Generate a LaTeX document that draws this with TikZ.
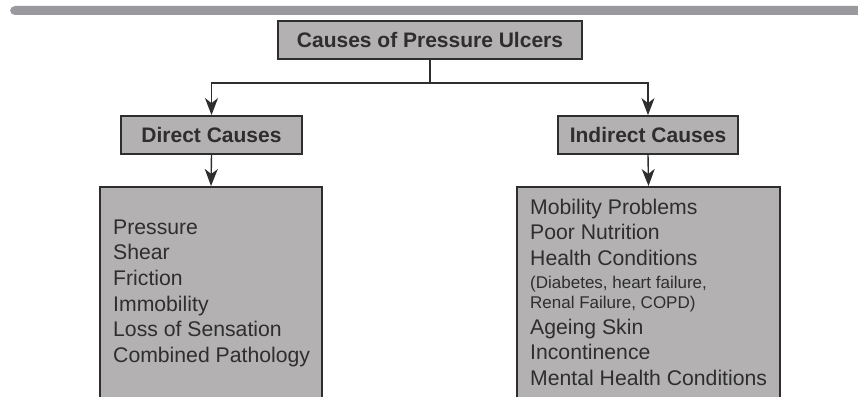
\documentclass[tikz,border=0pt]{standalone}
\usepackage{fontspec}
\setmainfont{Liberation Sans}
\usetikzlibrary{positioning}
\usetikzlibrary{arrows.meta}
\definecolor{boxgray}{HTML}{B3B1B2}
\definecolor{bargray}{HTML}{9A9A9E}
\definecolor{inkgray}{HTML}{2E2E2E}
\tikzset{>={Stealth[length=17pt,width=13pt,inset=5pt]}}
\tikzset{head/.style={draw=inkgray,line width=1.8pt,fill=boxgray,inner sep=0pt,
  minimum height=38pt,text=inkgray,font=\fontsize{21}{25}\selectfont\bfseries}}
\tikzset{listbox/.style={draw=inkgray,line width=1.8pt,fill=boxgray,inner sep=0pt,anchor=north}}
\tikzset{listtext/.style={align=left,inner sep=0pt,anchor=north west,text=inkgray,
  font=\fontsize{21.2}{25.6}\selectfont}}
\tikzset{conn/.style={draw=inkgray,line width=1.4pt}}

\begin{document}
\begin{tikzpicture}[x=1pt,y=-1pt]
    \useasboundingbox (0,0) rectangle (858,396);
    \clip (0,0) rectangle (858,396);
    \fill[bargray,rounded corners=5pt] (10,15) -- (10,6) -- (870,6) -- (870,15) -- cycle;

    \node[head, minimum width=304pt] (top) at (430,40) {Causes of Pressure Ulcers};
    \node[head, minimum width=181pt] (dir) at (211.5,135) {Direct Causes};
    \node[head, minimum width=180pt] (ind) at (648,135) {Indirect Causes};

    \node[listbox, minimum width=222pt, minimum height=240pt] (dirlist) at (211,186) {};
    \node[listbox, minimum width=263pt, minimum height=240pt] (indlist) at (648.5,186) {};

    \node[listtext] (dirtext) at (113,219.5) {Pressure\\Shear\\Friction\\Immobility\\
      Loss of Sensation\\Combined Pathology};
    \node[listtext] (indtext) at (530,198.5) {Mobility Problems\\Poor Nutrition\\
      Health Conditions\\[-2.5pt]
      {\fontsize{17}{20}\selectfont (Diabetes, heart failure,}\\[-5.5pt]
      {\fontsize{17}{20}\selectfont Renal Failure, COPD)}\\
      Ageing Skin\\Incontinence\\Mental Health Conditions};

    \draw[conn,->] (top.south) -- ++(0,23) -| (dir.north);
    \draw[conn,->] (top.south) -- ++(0,23) -| (ind.north);
    \draw[conn,->] (dir.south) -- (dirlist.north);
    \draw[conn,->] (ind.south) -- (indlist.north);
\end{tikzpicture}
\end{document}
